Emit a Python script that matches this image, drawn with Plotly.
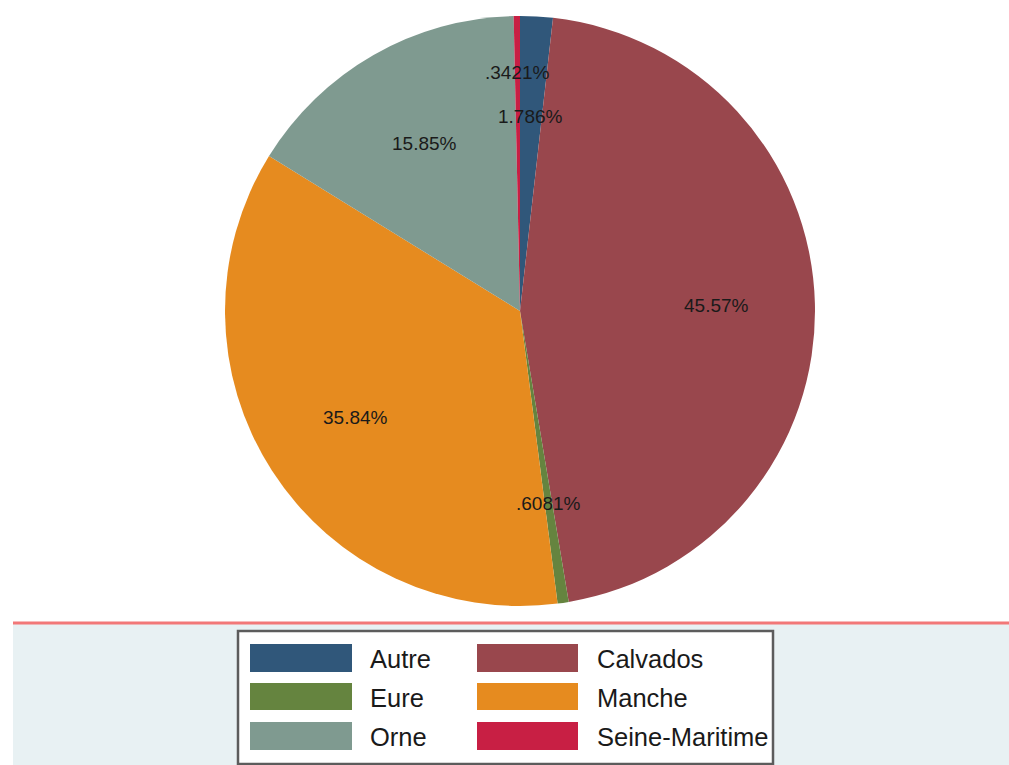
import math
import plotly.graph_objects as go

# ---- data ----
categories = ["Autre", "Calvados", "Eure", "Manche", "Orne", "Seine-Maritime"]
shares = [1.786, 45.57, 0.6081, 35.84, 15.85, 0.3421]

# ---- style ----
colors = ["#30577a", "#99474d", "#65843f", "#e68b1f", "#7f9a90", "#c81f44"]
label_radius = [0.66, 0.665, 0.66, 0.665, 0.655, 0.81]

W, H = 1009, 765
CX, CY, R = 520, 311, 295


def px(x):
    return x / W


def py(y):
    return 1 - y / H


def fmt(v):
    s = f"{v:.4g}"
    if s.startswith("0."):
        s = s[1:]
    return s + "%"


fig = go.Figure()
fig.add_trace(go.Pie(
    labels=categories,
    values=shares,
    sort=False,
    direction="clockwise",
    rotation=0,
    marker=dict(colors=colors, line=dict(width=0)),
    textinfo="none",
    hoverinfo="label+percent",
    showlegend=False,
    domain=dict(x=[px(CX - R), px(CX + R)], y=[py(CY + R), py(CY - R)]),
))

annotations = []
total = sum(shares)
cum = 0.0
for v, rf in zip(shares, label_radius):
    mid = (cum + v / 2) / total * 2 * math.pi
    cum += v
    x = CX + rf * R * math.sin(mid)
    y = CY - rf * R * math.cos(mid)
    annotations.append(dict(
        x=px(x), y=py(y), xref="paper", yref="paper",
        text=fmt(v), showarrow=False,
        font=dict(family="Liberation Sans, Arial, sans-serif", size=19, color="#1a1a1a"),
        xanchor="center", yanchor="middle",
    ))

shapes = [
    # lower band background
    dict(type="rect", xref="paper", yref="paper", x0=px(13), x1=1, y0=0, y1=py(623),
         fillcolor="#e8f1f3", line=dict(width=0), layer="below"),
    # red rule
    dict(type="line", xref="paper", yref="paper", x0=px(13), x1=1, y0=py(623), y1=py(623),
         line=dict(color="#f27878", width=3), layer="below"),
    # legend box
    dict(type="rect", xref="paper", yref="paper", x0=px(238), x1=px(773), y0=py(764), y1=py(631),
         fillcolor="white", line=dict(color="#5c5c5c", width=2.5), layer="below"),
]

col_sw_x = [(250, 352), (477, 578)]
col_tx_x = [368, 595]
row_y = [(644, 672), (683, 710), (722, 750)]
for i, (name, c) in enumerate(zip(categories, colors)):
    row, col = divmod(i, 2)
    x0, x1 = col_sw_x[col]
    y0, y1 = row_y[row]
    shapes.append(dict(type="rect", xref="paper", yref="paper",
                       x0=px(x0), x1=px(x1), y0=py(y1), y1=py(y0),
                       fillcolor=c, line=dict(width=0), layer="below"))
    annotations.append(dict(
        x=px(col_tx_x[col]), y=py((y0 + y1) / 2 + 1), xref="paper", yref="paper",
        text=name, showarrow=False, xanchor="left", yanchor="middle",
        font=dict(family="Liberation Sans, Arial, sans-serif", size=25.5, color="#1a1a1a"),
    ))

fig.update_layout(
    width=W, height=H,
    margin=dict(l=0, r=0, t=0, b=0),
    paper_bgcolor="white",
    plot_bgcolor="white",
    shapes=shapes,
    annotations=annotations,
    showlegend=False,
)

fig.write_html(
    "out.html",
    config={"displayModeBar": False},
    post_script="document.body.style.margin='0';document.body.style.padding='0';"
                "document.body.style.overflow='hidden';",
)
